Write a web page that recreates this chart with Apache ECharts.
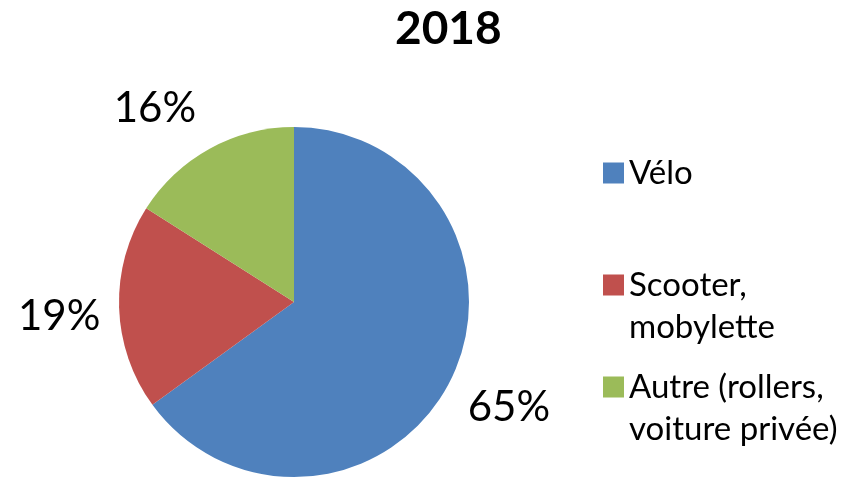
<!DOCTYPE html>
<html>
<head>
<meta charset="utf-8">
<title>2018</title>
<script src="https://cdn.jsdelivr.net/npm/echarts@6/dist/echarts.min.js"></script>
<style>
    html, body { margin: 0; padding: 0; background: #fff; }
    #myChart { width: 865px; height: 490px; }
</style>
</head>
<body>
<div id="myChart"></div>
<script>
// données
var annee = '2018';
var modes = ['Vélo', 'Scooter,\nmobylette', 'Autre (rollers,\nvoiture privée)'];
var parts = [65, 19, 16];
var couleurs = ['#4F81BD', '#C0504D', '#9BBB59'];

var pieData = [];
for (var i = 0; i < modes.length; i++) {
    pieData.push({name: modes[i], value: parts[i]});
}

// petit décalage des étiquettes (placement "au mieux" comme dans Excel)
var decalages = [
    {dx: 2, dy: -3},
    {dx: 4, dy: 7},
    {dx: -24, dy: 16}
];

var myChart = echarts.init(document.getElementById('myChart'));

var legendText = {
    fontFamily: 'Lato',
    fontSize: 33,
    lineHeight: 42,
    color: '#000'
};
// carré aligné sur la première ligne du texte
var iconDeuxLignes = 'path://M0,0H10V10H0Z M0,30';

var option = {
    animation: false,
    color: couleurs,
    title: {
        text: annee,
        left: 390,
        top: 1,
        textStyle: {
            fontFamily: 'Lato',
            fontWeight: 'bold',
            fontSize: 46,
            color: '#000'
        }
    },
    legend: [
        {
            data: [modes[0]],
            left: 603,
            top: 152,
            padding: 0,
            icon: 'rect',
            itemWidth: 21,
            itemHeight: 21,
            itemStyle: {borderWidth: 0},
            selectedMode: false,
            textStyle: legendText
        },
        {
            data: [modes[1]],
            left: 603,
            top: 264,
            padding: 0,
            icon: iconDeuxLignes,
            itemWidth: 21,
            itemHeight: 63,
            itemStyle: {borderWidth: 0},
            selectedMode: false,
            textStyle: legendText
        },
        {
            data: [modes[2]],
            left: 603,
            top: 366,
            padding: 0,
            icon: iconDeuxLignes,
            itemWidth: 21,
            itemHeight: 63,
            itemStyle: {borderWidth: 0},
            selectedMode: false,
            textStyle: legendText
        }
    ],
    series: [
        {
            type: 'pie',
            center: [294, 302],
            radius: 175,
            startAngle: 90,
            clockwise: true,
            label: {show: false},
            labelLine: {show: false},
            itemStyle: {borderWidth: 0},
            emphasis: {disabled: true},
            data: pieData
        },
        {
            // anneau invisible qui porte les pourcentages
            type: 'pie',
            center: [294, 302],
            radius: [200, 272],
            startAngle: 90,
            clockwise: true,
            silent: true,
            legendHoverLink: false,
            itemStyle: {color: 'rgba(0,0,0,0)', borderWidth: 0},
            emphasis: {disabled: true},
            label: {
                show: true,
                position: 'inside',
                formatter: '{d}%',
                fontFamily: 'Lato',
                fontSize: 42,
                color: '#000'
            },
            labelLine: {show: false},
            labelLayout: function (params) {
                return decalages[params.dataIndex];
            },
            data: pieData
        }
    ]
};

myChart.setOption(option);

window.onresize = function () {
    myChart.resize();
};
</script>
</body>
</html>
